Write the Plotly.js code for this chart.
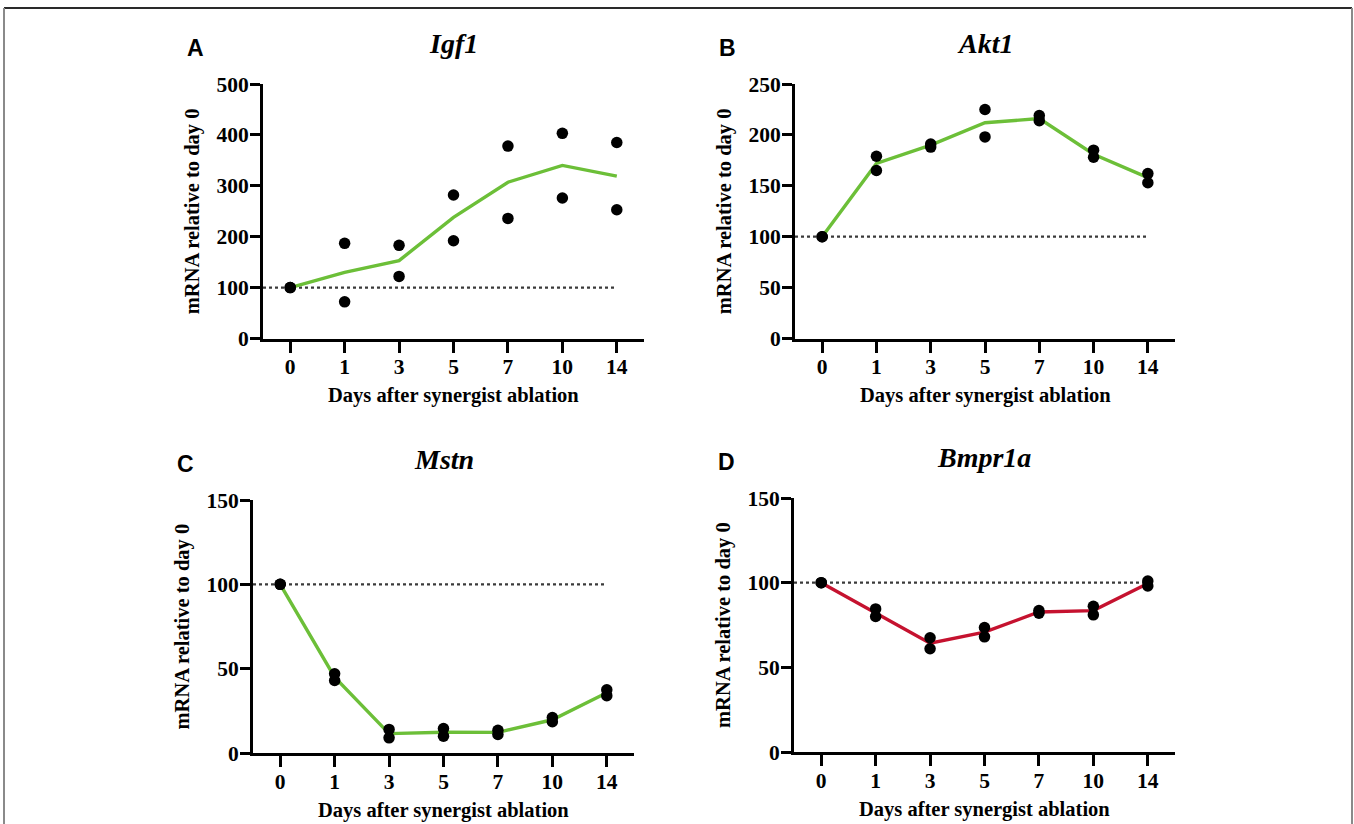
<!DOCTYPE html>
<html>
<head>
<meta charset="utf-8">
<script src="https://cdn.plot.ly/plotly-3.0.1.min.js"></script>
<style>
  html, body { margin: 0; padding: 0; background: #fff; }
  #chart { width: 1354px; height: 824px; }
</style>
</head>
<body>
<div id="chart"></div>
<script>
// ---------- DATA ----------
const days = ['0', '1', '3', '5', '7', '10', '14'];
const baseline = 100;

const igf1Rep1 = [100, 187, 183, 282, 378, 403, 385];
const igf1Rep2 = [100, 72, 122, 192, 236, 276, 253];
const igf1Mean = [100, 130, 153, 238, 307, 340, 319];

const akt1Rep1 = [100, 179, 191, 225, 219, 185, 162];
const akt1Rep2 = [100, 165, 188, 198, 214, 178, 153];
const akt1Mean = [100, 172, 190, 212, 216, 181, 158];

const mstnRep1 = [100, 47, 14, 14.5, 13.5, 21, 37.5];
const mstnRep2 = [100, 43, 9, 10, 11, 18.5, 34];
const mstnMean = [100, 45, 11.5, 12.3, 12.2, 19.7, 35.7];

const bmprRep1 = [100, 84.5, 67.5, 73.5, 83.5, 86, 101];
const bmprRep2 = [100, 80, 61, 68, 82, 81, 98];
const bmprMean = [100, 82.3, 64.3, 70.8, 82.7, 83.5, 99.5];

const genes = ['Igf1', 'Akt1', 'Mstn', 'Bmpr1a'];
const panelLetters = ['A', 'B', 'C', 'D'];
const yMax = [500, 250, 150, 150];
const yStep = [100, 50, 50, 50];
const yTitle = 'mRNA relative to day 0';
const xTitle = 'Days after synergist ablation';

// ---------- STYLE / LAYOUT ----------
const W = 1354, H = 824;
const px = x => x / W;
const py = y => 1 - y / H;
const GREEN = '#6cbf38';
const RED = '#c5122f';
const lineColors = [GREEN, GREEN, GREEN, RED];

// panel boxes in pixels: [left, right, top, bottom]
const boxes = [
  [263, 644, 84, 338.5],
  [795, 1175, 84, 338.5],
  [253, 634, 500, 753],
  [794, 1175, 498, 752]
];

const reps1 = [igf1Rep1, akt1Rep1, mstnRep1, bmprRep1];
const reps2 = [igf1Rep2, akt1Rep2, mstnRep2, bmprRep2];
const means = [igf1Mean, akt1Mean, mstnMean, bmprMean];

const serif = 'Liberation Serif, Times New Roman, serif';
const tickFont = {family: serif, size: 21.5, color: '#000', weight: 'bold'};

const traces = [];
const layout = {
  width: W, height: H,
  margin: {l: 0, r: 0, t: 0, b: 0},
  paper_bgcolor: '#fff',
  plot_bgcolor: 'rgba(0,0,0,0)',
  showlegend: false,
  shapes: [],
  annotations: []
};

for (let i = 0; i < 4; i++) {
  const n = i === 0 ? '' : String(i + 1);
  const xa = 'x' + n, ya = 'y' + n;
  const [l, r, t, b] = boxes[i];

  traces.push({
    x: days, y: means[i], xaxis: xa, yaxis: ya,
    type: 'scatter', mode: 'lines',
    line: {color: lineColors[i], width: 3.4},
    hoverinfo: 'skip'
  });
  traces.push({
    x: days.concat(days), y: reps1[i].concat(reps2[i]), xaxis: xa, yaxis: ya,
    type: 'scatter', mode: 'markers',
    marker: {color: '#000', size: 11.5, line: {width: 0}}
  });

  layout['xaxis' + n] = {
    domain: [px(l), px(r)],
    anchor: ya,
    type: 'category',
    categoryorder: 'array', categoryarray: days,
    range: [-0.5, 6.5],
    showgrid: false, zeroline: false,
    showline: true, linecolor: '#000', linewidth: 3,
    ticks: 'outside', ticklen: 11, tickwidth: 3, tickcolor: '#000',
    tickfont: tickFont,
    ticklabelstandoff: -4,
    fixedrange: true
  };
  layout['yaxis' + n] = {
    domain: [py(b), py(t)],
    anchor: xa,
    range: [0, yMax[i]],
    dtick: yStep[i], tick0: 0,
    showgrid: false, zeroline: false,
    showline: true, linecolor: '#000', linewidth: 3,
    ticks: 'outside', ticklen: 10, tickwidth: 3, tickcolor: '#000',
    tickfont: tickFont,
    ticklabelstandoff: -3,
    fixedrange: true
  };

  // dotted reference line at baseline
  layout.shapes.push({
    type: 'line', xref: xa, yref: ya, layer: 'below',
    x0: -0.5, x1: 6, y0: baseline, y1: baseline,
    line: {color: '#3a3a3a', width: 2.2, dash: 'dot'}
  });

  const cx = (l + r) / 2;
  // gene title
  layout.annotations.push({
    xref: 'paper', yref: 'paper', x: px(cx), y: py(t - 41),
    xanchor: 'center', yanchor: 'middle', showarrow: false,
    text: '<b><i>' + genes[i] + '</i></b>',
    font: {family: serif, size: 28, color: '#000'}
  });
  // panel letter
  layout.annotations.push({
    xref: 'paper', yref: 'paper', x: px(l - 68), y: py(t - 36),
    xanchor: 'center', yanchor: 'middle', showarrow: false,
    text: '<b>' + panelLetters[i] + '</b>',
    font: {family: 'Liberation Sans, Arial, sans-serif', size: 23, color: '#000'}
  });
  // y title
  layout.annotations.push({
    xref: 'paper', yref: 'paper', x: px(l - 71), y: py((t + b) / 2),
    xanchor: 'center', yanchor: 'middle', showarrow: false, textangle: -90,
    text: '<b>' + yTitle + '</b>',
    font: {family: serif, size: 20.5, color: '#000'}
  });
  // x title
  layout.annotations.push({
    xref: 'paper', yref: 'paper', x: px(cx), y: py(b + 57),
    xanchor: 'center', yanchor: 'middle', showarrow: false,
    text: '<b>' + xTitle + '</b>',
    font: {family: serif, size: 20.5, color: '#000'}
  });
}

// outer frame
layout.shapes.push(
  {type: 'line', xref: 'paper', yref: 'paper', x0: px(4), x1: px(1352), y0: py(8), y1: py(8),
   line: {color: '#2a2a2a', width: 2}},
  {type: 'line', xref: 'paper', yref: 'paper', x0: px(4), x1: px(4), y0: py(8), y1: 0,
   line: {color: '#8a8a8a', width: 2}},
  {type: 'line', xref: 'paper', yref: 'paper', x0: px(1352), x1: px(1352), y0: py(8), y1: 0,
   line: {color: '#8a8a8a', width: 2}}
);

Plotly.newPlot('chart', traces, layout, {displayModeBar: false, staticPlot: true});
</script>
</body>
</html>
